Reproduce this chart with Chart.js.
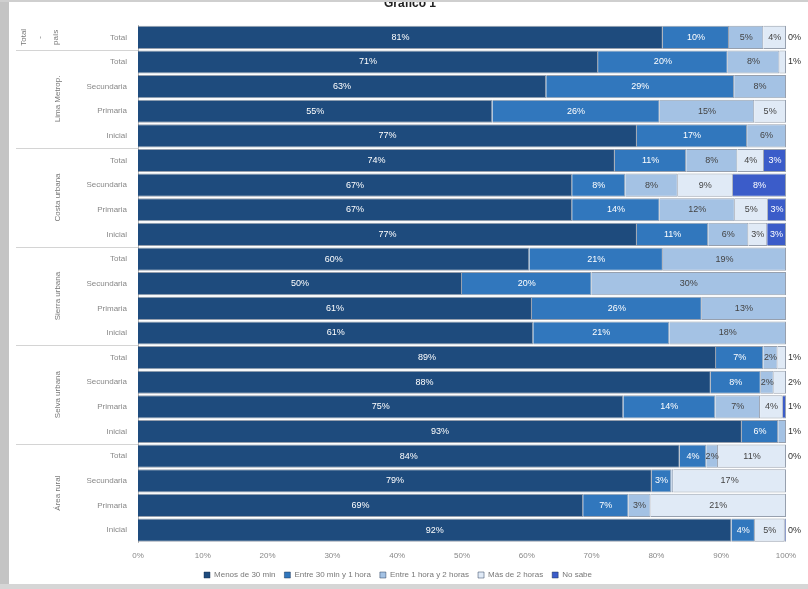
<!DOCTYPE html>
<html>
<head>
<meta charset="utf-8">
<script src="https://cdn.jsdelivr.net/npm/chart.js@4/dist/chart.umd.min.js"></script>
<style>
  body { margin: 0; background: #fff; }
  #wrap { position: relative; width: 808px; height: 589px; }
  #frameL { position: absolute; left: 0; top: 0; width: 9px; height: 589px; background: #c4c4c4; }
  #frameB { position: absolute; left: 0; top: 584px; width: 808px; height: 5px; background: #d6d6d6; }
  #frameT { position: absolute; left: 0; top: 0; width: 808px; height: 2px; background: #cfcfcf; }
</style>
</head>
<body>
<div id="wrap">
  <canvas id="chart" width="808" height="589"></canvas>
  <div id="frameL"></div><div id="frameT"></div><div id="frameB"></div>
</div>
<script>
// Datos del gráfico
const categories = ['Total',
  'Total', 'Secundaria', 'Primaria', 'Inicial',
  'Total', 'Secundaria', 'Primaria', 'Inicial',
  'Total', 'Secundaria', 'Primaria', 'Inicial',
  'Total', 'Secundaria', 'Primaria', 'Inicial',
  'Total', 'Secundaria', 'Primaria', 'Inicial'];
const groupLabels = [['Total', '-', 'país'], ['Lima Metrop.'], ['Costa urbana'], ['Sierra urbana'], ['Selva urbana'], ['Área rural']];
const groupSizes = [1, 4, 4, 4, 4, 4];
const seriesNames = ['Menos de 30 min', 'Entre 30 min y 1 hora', 'Entre 1 hora y 2 horas', 'Más de 2 horas', 'No sabe'];
const menos30 = [81, 71, 63, 54.7, 77, 73.6, 67, 67, 77, 60.4, 50, 60.8, 61, 89.2, 88.4, 74.9, 93.2, 83.6, 79.3, 68.7, 91.6];
const entre30y1 = [10.2, 20, 29, 25.8, 17, 11, 8.2, 13.5, 11, 20.6, 20, 26.2, 21, 7.3, 7.7, 14.2, 5.6, 4.1, 3.0, 7.0, 3.6];
const entre1y2 = [5.3, 8, 8, 14.6, 6, 7.9, 8.1, 11.6, 6.2, 19, 30, 13, 18, 2.2, 2.0, 6.9, 1.2, 1.8, 0.3, 3.4, 0];
const mas2 = [3.5, 1, 0, 4.9, 0, 4.1, 8.5, 5.1, 2.9, 0, 0, 0, 0, 1.3, 1.9, 3.5, 0, 10.5, 17.4, 20.9, 4.6];
const noSabe = [0.3, 0, 0, 0, 0, 3.4, 8.2, 2.8, 2.9, 0, 0, 0, 0, 0, 0, 0.5, 0, 0.2, 0, 0, 0.2];
const xTicks = ['0%', '10%', '20%', '30%', '40%', '50%', '60%', '70%', '80%', '90%', '100%'];

const colors = ['#1e4b7d', '#3177bd', '#a4c2e4', '#e0eaf6', '#3b5cc9'];
const labelColors = ['#fff', '#fff', '#444', '#444', '#fff'];
const allSeries = [menos30, entre30y1, entre1y2, mas2, noSabe];

// Etiquetas de valor sobre cada segmento
const valueLabels = {
  id: 'valueLabels',
  afterDatasetsDraw(chart) {
    const ctx = chart.ctx;
    const area = chart.chartArea;
    ctx.save();
    ctx.font = '9px "Liberation Sans", Arial, sans-serif';
    ctx.textBaseline = 'middle';
    chart.data.datasets.forEach((ds, di) => {
      const meta = chart.getDatasetMeta(di);
      meta.data.forEach((bar, i) => {
        const v = ds.data[i];
        if (!v) return;
        let last = true;
        for (let k = di + 1; k < allSeries.length; k++) if (allSeries[k][i] > 0) last = false;
        const txt = Math.round(v) + '%';
        if (last && v < 1.95) {
          ctx.fillStyle = '#333';
          ctx.textAlign = 'left';
          ctx.fillText(txt, area.right + 2, bar.y);
        } else if (v >= 0.5) {
          ctx.fillStyle = labelColors[di];
          ctx.textAlign = 'center';
          ctx.fillText(txt, (bar.base + bar.x) / 2, bar.y);
        }
      });
    });
    ctx.restore();
  }
};

// Etiquetas de grupo (texto girado) y líneas separadoras
const groupAxis = {
  id: 'groupAxis',
  afterDraw(chart) {
    const ctx = chart.ctx;
    const y = chart.scales.y;
    const area = chart.chartArea;
    ctx.save();
    ctx.font = '8px "Liberation Sans", Arial, sans-serif';
    ctx.fillStyle = '#777';
    ctx.strokeStyle = '#d4d4d4';
    ctx.lineWidth = 1;
    let start = 0;
    groupSizes.forEach((n, g) => {
      const half = (y.getPixelForValue(1) - y.getPixelForValue(0)) / 2;
      const top = y.getPixelForValue(start) - half;
      const bottom = y.getPixelForValue(start + n - 1) + half;
      if (g > 0) {
        ctx.beginPath();
        ctx.moveTo(16, Math.round(top) + 0.5);
        ctx.lineTo(area.left, Math.round(top) + 0.5);
        ctx.stroke();
      }
      const lines = groupLabels[g];
      const cy = (top + bottom) / 2;
      ctx.save();
      ctx.translate(g === 0 ? 40 : 58, cy);
      ctx.rotate(-Math.PI / 2);
      ctx.textAlign = 'center';
      ctx.textBaseline = 'middle';
      lines.forEach((t, li) => {
        ctx.fillText(t, 0, (li - (lines.length - 1) / 2) * 16);
      });
      ctx.restore();
      start += n;
    });
    // título
    ctx.font = 'bold 12px "Liberation Sans", Arial, sans-serif';
    ctx.fillStyle = '#222';
    ctx.textAlign = 'center';
    ctx.textBaseline = 'middle';
    ctx.fillText('Gráfico 1', 410, 4);
    ctx.restore();
  }
};

new Chart(document.getElementById('chart'), {
  type: 'bar',
  data: {
    labels: categories,
    datasets: allSeries.map((d, i) => ({
      label: seriesNames[i],
      data: d,
      backgroundColor: colors[i],
      borderColor: 'rgba(25,45,75,0.45)',
      borderWidth: 1,
      barPercentage: 0.94,
      categoryPercentage: 1
    }))
  },
  options: {
    indexAxis: 'y',
    responsive: false,
    animation: false,
    layout: { padding: { left: 10, right: 22, top: 25, bottom: 0 } },
    plugins: {
      legend: {
        position: 'bottom',
        labels: {
          boxWidth: 6, boxHeight: 6, padding: 9,
          color: '#777',
          font: { size: 8, family: '"Liberation Sans", Arial, sans-serif' }
        }
      },
      tooltip: { enabled: false }
    },
    scales: {
      x: {
        stacked: true, min: 0, max: 100,
        grid: { display: false },
        border: { display: false },
        ticks: {
          stepSize: 10, color: '#888', padding: 1,
          font: { size: 8, family: '"Liberation Sans", Arial, sans-serif' },
          callback: (v, i) => xTicks[i]
        }
      },
      y: {
        stacked: true,
        grid: { display: false },
        border: { color: '#bbb' },
        afterFit: s => { s.width = 128; },
        ticks: {
          color: '#888',
          font: { size: 8, family: '"Liberation Sans", Arial, sans-serif' }
        }
      }
    }
  },
  plugins: [valueLabels, groupAxis]
});
</script>
</body>
</html>
